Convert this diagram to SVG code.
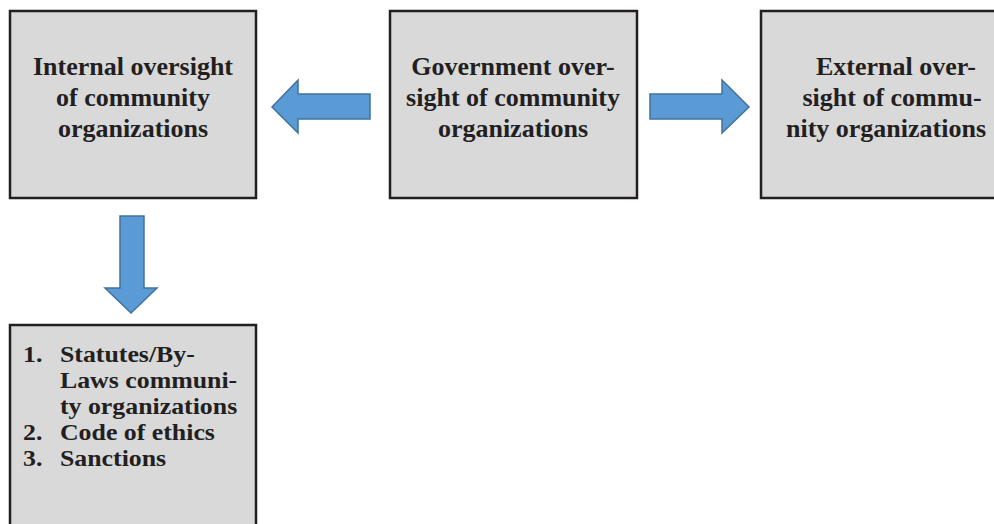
<svg xmlns="http://www.w3.org/2000/svg" width="994" height="524" viewBox="0 0 994 524">
<style>
.box{fill:#d9d9d9;stroke:#231f20;stroke-width:2.5}
.t{font-family:"Liberation Serif","Times New Roman",serif;font-weight:bold;font-size:26px;fill:#231f20}
.s{font-size:23.5px}
.c{text-anchor:middle}
.arrow{fill:#5b9bd5;stroke:#41719c;stroke-width:1.5;stroke-linejoin:miter}
</style>
<rect width="994" height="524" fill="#ffffff"/>
<g id="internal">
<rect class="box" x="10" y="11" width="246" height="187"/>
<text class="t c" x="133" y="75">Internal oversight</text>
<text class="t c" x="133" y="106">of community</text>
<text class="t c" x="133" y="137">organizations</text>
</g>
<g id="government">
<rect class="box" x="390" y="11" width="247" height="187"/>
<text class="t c" x="513" y="75">Government over-</text>
<text class="t c" x="513" y="106">sight of community</text>
<text class="t c" x="513" y="137">organizations</text>
</g>
<g id="external">
<rect class="box" x="761" y="11" width="250" height="187"/>
<text class="t c" x="896" y="75">External over-</text>
<text class="t c" x="892" y="106">sight of commu-</text>
<text class="t c" x="886" y="137">nity organizations</text>
</g>
<g id="mechanisms">
<rect class="box" x="10" y="325" width="246" height="210"/>
<g transform="scale(1.1,1)">
<text class="t s" x="20.9" y="362">1.</text>
<text class="t s" x="54.5" y="362">Statutes/By-</text>
<text class="t s" x="54.5" y="388">Laws communi-</text>
<text class="t s" x="54.5" y="414">ty organizations</text>
<text class="t s" x="20.9" y="440">2.</text>
<text class="t s" x="54.5" y="440">Code of ethics</text>
<text class="t s" x="20.9" y="466">3.</text>
<text class="t s" x="54.5" y="466">Sanctions</text>
</g>
</g>
<g id="connectors">
<polygon class="arrow" points="370,94 298,94 298,80 272,107 298,133 298,119 370,119"/>
<polygon class="arrow" points="650,94 722,94 722,80 749,107 722,133 722,119 650,119"/>
<polygon class="arrow" points="120,216 144,216 144,288 157,288 131,313 105,288 120,288"/>
</g>
</svg>
